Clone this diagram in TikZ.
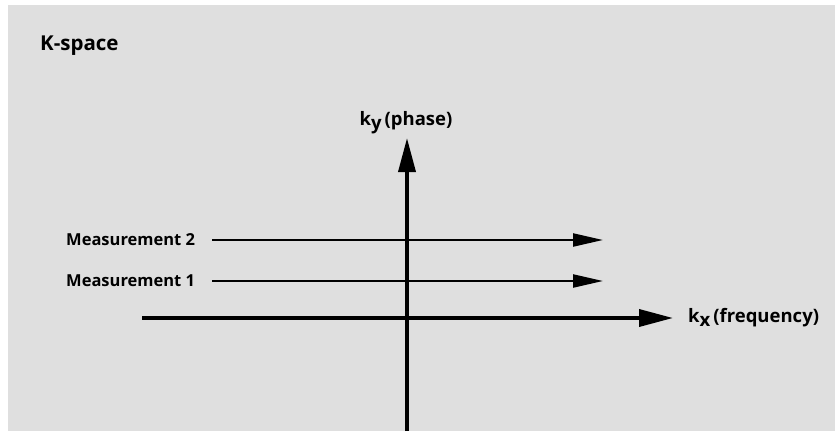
\documentclass[tikz,border=0pt]{standalone}
\usepackage{fontspec}
\setmainfont{Open Sans}
\usetikzlibrary{arrows.meta}
\definecolor{bg}{HTML}{DFDFDF}
\tikzset{
  lbl/.style={font=\bfseries\fontsize{16.5}{18}\selectfont, inner sep=0pt},
  axlbl/.style={font=\bfseries\fontsize{18.5}{22}\selectfont, inner sep=0pt},
  axis/.style={line width=3.6pt, -{Triangle[length=34pt,width=17pt]}},
  meas/.style={line width=2.2pt, -{Triangle[length=30pt,width=13pt]}},
}
\begin{document}
\begin{tikzpicture}[x=1pt,y=-1pt]
\useasboundingbox (0,0) rectangle (835,431);
\fill[bg] (8,5) rectangle (835,431);
\node[inner sep=0pt, font=\bfseries\fontsize{20.5}{24}\selectfont, anchor=base west] (title) at (40,50) {K-space};
% axes
\coordinate (vb) at (407,431);
\coordinate (vt) at (407,138);
\coordinate (hl) at (142,318);
\coordinate (hr) at (673,318);
\draw[axis] (vb) -- (vt);
\draw[axis] (hl) -- (hr);
\node[axlbl, anchor=base] (ky) at (406,125) {k\raisebox{-4.5pt}{y}\kern3pt(phase)};
\node[axlbl, anchor=base west] (kx) at (688,322) {k\raisebox{-4.5pt}{x}\kern3pt(frequency)};
% measurements
\node[lbl, anchor=base west] (m2) at (66,245) {Measurement 2};
\node[lbl, anchor=base west] (m1) at (66,286) {Measurement 1};
\coordinate (m2s) at (212,240);
\coordinate (m2e) at (603,240);
\coordinate (m1s) at (212,281);
\coordinate (m1e) at (603,281);
\draw[meas] (m2s) -- (m2e);
\draw[meas] (m1s) -- (m1e);
\end{tikzpicture}
\end{document}
